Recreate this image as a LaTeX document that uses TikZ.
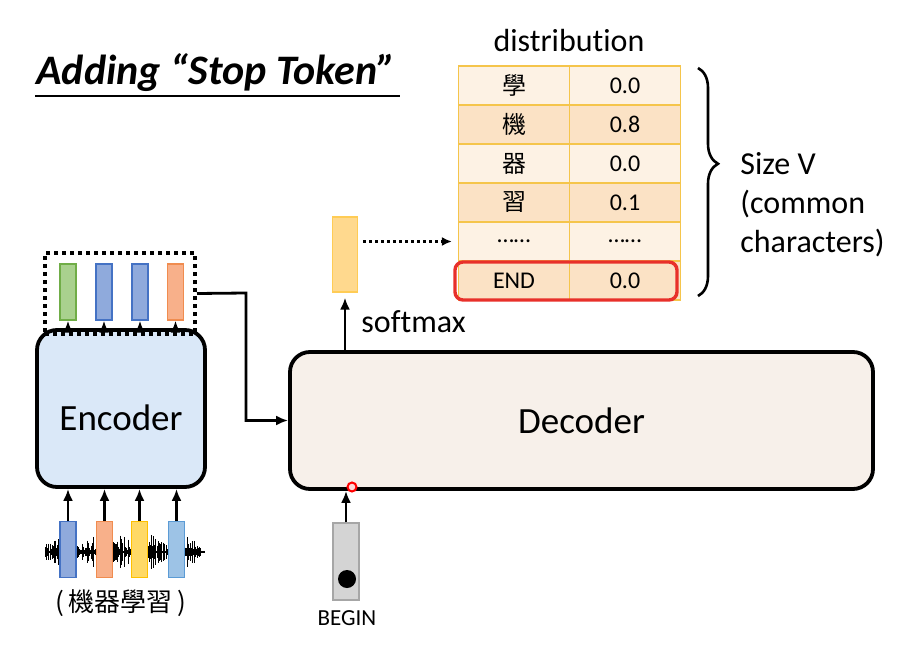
\documentclass[tikz,border=0pt]{standalone}
\usepackage{fontspec}
\setmainfont{Carlito}[Ligatures=NoCommon]
\newfontfamily\cjk{Noto Sans CJK TC}
\usetikzlibrary{arrows.meta,decorations.pathreplacing}

\definecolor{encfill}{HTML}{DAE8F8}
\definecolor{decfill}{HTML}{F7F0EA}
\definecolor{gfill}{HTML}{A9D18E}
\definecolor{gline}{HTML}{70AD47}
\definecolor{bfill}{HTML}{8FAADC}
\definecolor{bline}{HTML}{4472C4}
\definecolor{ofill}{HTML}{F8B08A}
\definecolor{oline}{HTML}{F08C4F}
\definecolor{yfill}{HTML}{FFD966}
\definecolor{yline}{HTML}{FFC000}
\definecolor{sfill}{HTML}{FFD98E}
\definecolor{sline}{HTML}{FFCC55}
\definecolor{lbfill}{HTML}{9DC3E6}
\definecolor{lbline}{HTML}{5B9BD5}
\definecolor{tabline}{HTML}{F5C54B}
\definecolor{rowlight}{HTML}{FDF2E4}
\definecolor{rowdark}{HTML}{FBE2C5}
\definecolor{endred}{HTML}{E8302A}

\begin{document}
\begin{tikzpicture}[x=0.5pt, y=-0.5pt,
    every node/.style={inner sep=0pt},
    vec/.style={draw, line width=0.6pt, minimum width=8pt, minimum height=28pt},
    block/.style={draw, line width=1.9pt, rounded corners=10pt},
    blocktext/.style={font=\fontsize{18.5}{22}\selectfont},
    arr/.style={-{Latex[length=6pt,width=5pt]}, line width=1.4pt},
    cell/.style={draw=tabline, line width=0.6pt, minimum width=55.5pt, minimum height=19.5pt, font=\fontsize{12}{14}\selectfont},
    lbl/.style={font=\fontsize{16}{19.5}\selectfont}]
    \useasboundingbox (0,0) rectangle (909,663);

    % title
    \node[anchor=base west, font=\fontsize{21}{25}\selectfont\bfseries\itshape] (title) at (36,85) {Adding “Stop Token”};
    \draw[line width=1pt] (35,96) -- (400,96);

    % encoder side
    \node[block, fill=encfill, minimum width=84pt, minimum height=78.5pt] (enc) at (121,408.5) {};
    \node[blocktext] (enclbl) at (121,418) {Encoder};
    \node[draw, line width=2pt, dash pattern=on 2pt off 2pt, minimum width=75pt, minimum height=40.5pt] (encout) at (120,293.5) {};
    \node[vec, fill=gfill, draw=gline] (e1) at (68,292) {};
    \node[vec, fill=bfill, draw=bline] (e2) at (104,292) {};
    \node[vec, fill=bfill, draw=bline] (e3) at (140,292) {};
    \node[vec, fill=ofill, draw=oline] (e4) at (175.5,292) {};
    \foreach \i in {1,...,4}
        \draw[arr] (e\i.south |- enc.north) -- (e\i.south);

    % sound wave
    \pgfmathsetseed{11}
    \draw[line width=1pt] (45,552) -- (205,552);
    \foreach \i in {0,...,159} {
        \pgfmathsetmacro{\h}{1+17*rnd*abs(sin(\i*5.6+20))}
        \draw[line width=0.5pt] (45+\i,552-\h) -- (45+\i,552+\h);
    }
    \node[vec, fill=bfill, draw=bline] (x1) at (68,549.5) {};
    \node[vec, fill=ofill, draw=oline] (x2) at (104.5,549.5) {};
    \node[vec, fill=yfill, draw=yline] (x3) at (139.5,549.5) {};
    \node[vec, fill=lbfill, draw=lbline] (x4) at (176.5,549.5) {};
    \foreach \i in {1,...,4}
        \draw[arr] (x\i.north) -- (x\i.north |- enc.south);
    \node[font=\cjk\fontsize{13}{15}\selectfont] (speech) at (121,603) {(\,機器學習\,)};

    % decoder side
    \node[block, fill=decfill, minimum width=291.5pt, minimum height=68.5pt] (dec) at (581.5,420.5) {};
    \node[blocktext] (declbl) at (581.5,421) {Decoder};
    \coordinate (bend) at (246,293);
    \draw[arr] (encout.east) -- (bend) |- (dec.west);

    \node[draw=black!35, fill=black!17, line width=0.6pt, minimum width=13pt, minimum height=38.5pt] (begin) at (346,561.5) {};
    \node[circle, fill=black, minimum size=9pt] (dot) at (347,579) {};
    \node[font=\fontsize{11.5}{14}\selectfont] (beginlbl) at (347,618) {BEGIN};
    \draw[arr] (begin.north) -- (begin.north |- dec.south);
    \node[circle, draw=red, fill=red!15, line width=1pt, minimum size=4.5pt] (ptr) at (352,487) {};

    \node[vec, fill=sfill, draw=sline, minimum width=12.5pt, minimum height=37.5pt] (out) at (345,254.5) {};
    \draw[arr, shorten >=2.5pt] (out.south |- dec.north) -- (out.south);
    \node[lbl, anchor=west] (softmax) at (361,322) {softmax};

    % distribution table
    \node[lbl] (distlbl) at (569,41) {distribution};
    \foreach \ch/\val [count=\r] in {{\cjk 學}/0.0, {\cjk 機}/0.8, {\cjk 器}/0.0, {\cjk 習}/0.1, ……/……, END/0.0} {
        \ifodd\r \def\rowcol{rowlight}\else\def\rowcol{rowdark}\fi
        \node[cell, fill=\rowcol] (l\r) at (514,46.5+39*\r) {\ch};
        \node[cell, fill=\rowcol] (v\r) at (625,46.5+39*\r) {\val};
    }
    \node[draw=endred, line width=1.7pt, rounded corners=4pt, minimum width=111pt, minimum height=19pt] (endhl) at (566,281) {};
    \draw[line width=1.4pt, dash pattern=on 1.4pt off 1.6pt, -{Latex[length=5pt,width=4.5pt]}, shorten <=2.5pt, shorten >=3pt] (out.east |- l5.west) -- (l5.west);

    \coordinate (bracetop) at (698,68);
    \coordinate (bracebot) at (698,296);
    \draw[decorate, decoration={brace, amplitude=10pt, aspect=0.42}, line width=1.3pt] (bracetop) -- (bracebot);
    \node[lbl, anchor=west, align=left] (sizelbl) at (740,205) {Size V\\(common\\characters)};
\end{tikzpicture}
\end{document}
